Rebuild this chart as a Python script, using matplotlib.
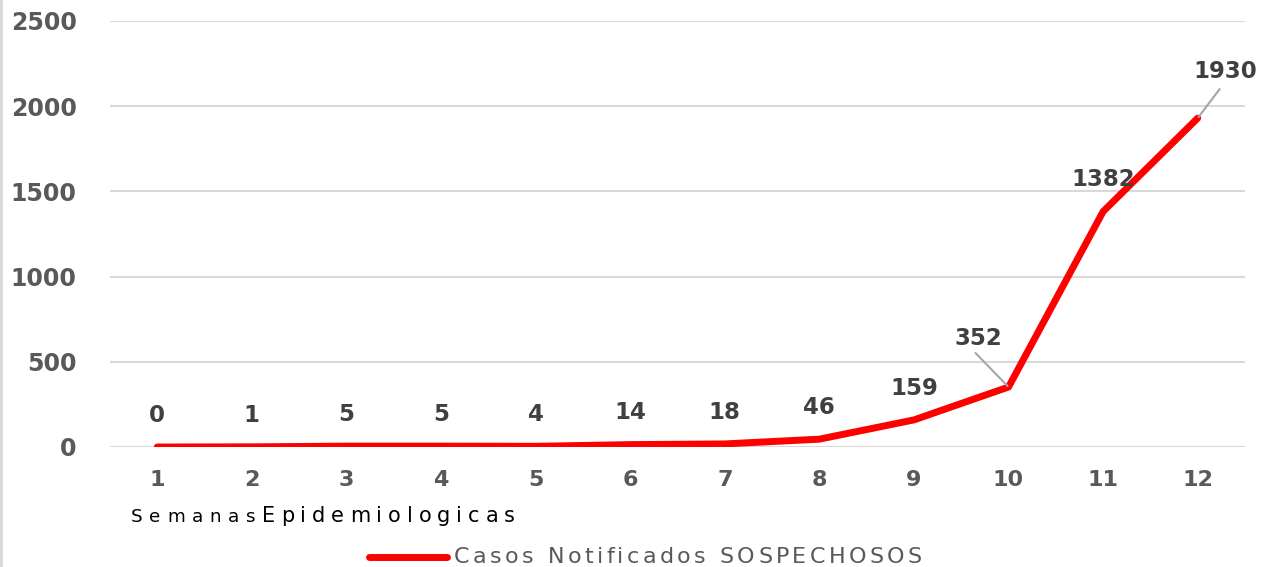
import matplotlib
matplotlib.use("Agg")
import matplotlib.pyplot as plt
from matplotlib.patches import Rectangle
from matplotlib.lines import Line2D
from matplotlib.font_manager import FontProperties

semanas = [1, 2, 3, 4, 5, 6, 7, 8, 9, 10, 11, 12]
casos = [0, 1, 5, 5, 4, 14, 18, 46, 159, 352, 1382, 1930]
y_ticks = [0, 500, 1000, 1500, 2000, 2500]
serie_nombre = "Casos Notificados SOSPECHOSOS"

W, H = 1262, 567
GRAY = "#595959"
LABEL = "#404040"


def spaced_text(fig, x0, x1, y, s, size, color):
    """Texto con espaciado entre letras para llenar de x0 a x1 (pixeles)."""
    renderer = fig.canvas.get_renderer()
    prop = FontProperties(family="DejaVu Sans", size=size)

    def width(t):
        return renderer.get_text_width_height_descent(t, prop, ismath=False)[0]

    total = width(s)
    track = (x1 - x0 - total) / (len(s) - 1)
    for i, ch in enumerate(s):
        x = x0 + width(s[:i]) + i * track if i else x0
        fig.text(x / W, 1 - y / H, ch, fontproperties=prop, color=color,
                 ha="left", va="baseline")


fig = plt.figure(figsize=(W / 100, H / 100), dpi=100)
ax = fig.add_axes([110 / W, 1 - 447 / H, 1135 / W, 426 / H])

ax.plot(semanas, casos, color="#ff0000", linewidth=5, solid_capstyle="round",
        solid_joinstyle="round", zorder=3)

ax.set_xlim(0.5, 12.5)
ax.set_ylim(0, 2500)
ax.set_yticks(y_ticks)
ax.set_xticks(semanas)
ax.yaxis.grid(True, color="#d9d9d9", linewidth=1.5)
ax.set_axisbelow(True)
for s in ax.spines.values():
    s.set_visible(False)
ax.tick_params(length=0)
ax.tick_params(axis="y", pad=24, labelsize=17, labelcolor=GRAY)
ax.tick_params(axis="x", pad=16.5, labelsize=16, labelcolor=GRAY)
for lbl in ax.get_xticklabels() + ax.get_yticklabels():
    lbl.set_fontweight("bold")

# etiquetas de datos
for x, v in zip(semanas, casos):
    if v in (352, 1930):
        continue
    ax.annotate(str(v), (x, v), xytext=(0, 14.5), textcoords="offset points",
                ha="center", va="bottom", fontsize=16.5, fontweight="bold",
                color=LABEL)

# etiquetas desplazadas con linea guia
ax.annotate("352", (10, 352), xytext=(-21.5, 27), textcoords="offset points",
            ha="center", va="bottom", fontsize=16.5, fontweight="bold", color=LABEL)
ax.annotate("", (10, 352), xytext=(-23.8, 24.5), textcoords="offset points",
            arrowprops=dict(arrowstyle="-", color="#a6a6a6", lw=1.5,
                            shrinkA=0, shrinkB=1))
ax.annotate("1930", (12, 1930), xytext=(19.5, 25.5), textcoords="offset points",
            ha="center", va="bottom", fontsize=16.5, fontweight="bold", color=LABEL)
ax.annotate("", (12, 1930), xytext=(15.8, 20.9), textcoords="offset points",
            arrowprops=dict(arrowstyle="-", color="#a6a6a6", lw=1.5,
                            shrinkA=0, shrinkB=1))

# titulo del eje x
spaced_text(fig, 131, 255, 522, "Semanas", 13.2, "black")
spaced_text(fig, 262, 515, 522, "Epidemiologicas", 15, "black")

# leyenda
fig.add_artist(Line2D([369 / W, 447 / W], [1 - 556.5 / H, 1 - 556.5 / H],
                      color="#ff0000", linewidth=5, solid_capstyle="round"))
spaced_text(fig, 454, 922, 563, serie_nombre, 16, GRAY)

# borde izquierdo
fig.add_artist(Rectangle((0, 0), 3 / W, 1, transform=fig.transFigure,
                         color="#d9d9d9", linewidth=0))

fig.savefig("out.png", dpi=100)
